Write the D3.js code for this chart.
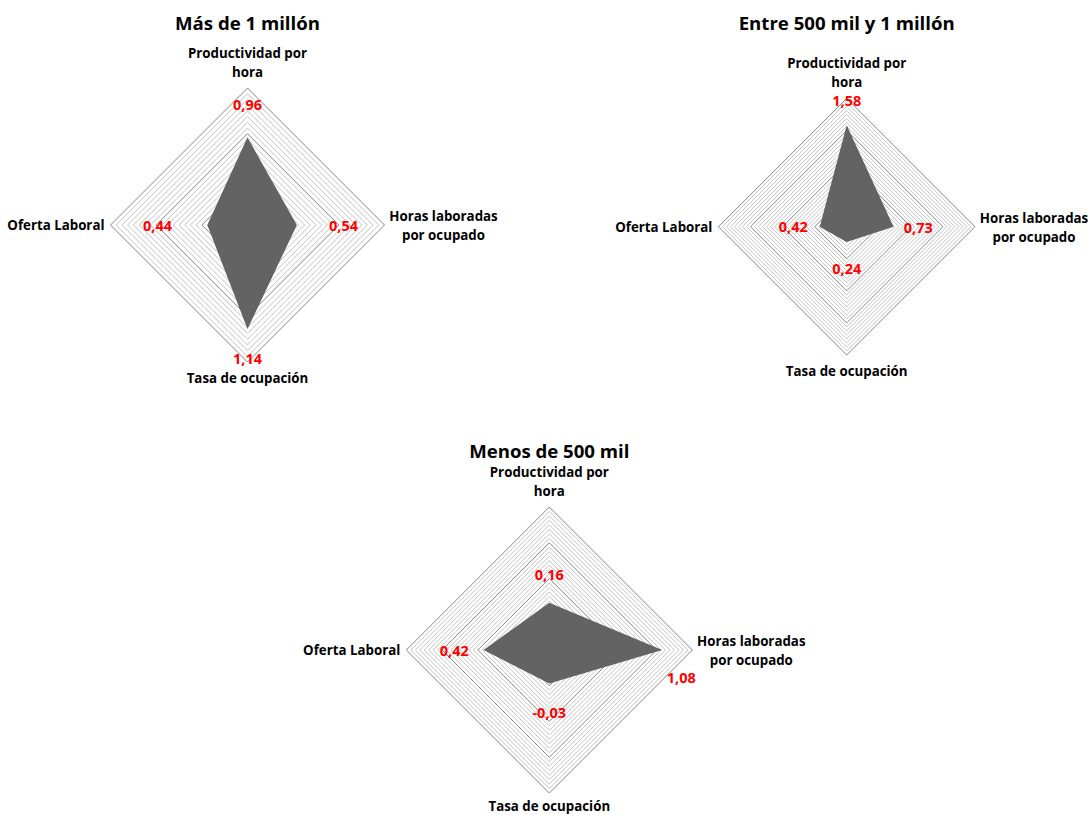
<!DOCTYPE html>
<html>
<head>
<meta charset="utf-8">
<script src="https://cdn.jsdelivr.net/npm/d3@7"></script>
<style>
  body { margin: 0; background: #fff; }
  text { font-family: "Open Sans", Lato, sans-serif; font-weight: bold; }
</style>
</head>
<body>
<div id="chart-container"></div>
<script>
const svgWidth = 1088,
    svgHeight = 815;

// axes clockwise from the top
const categories = [["Productividad por", "hora"], ["Horas laboradas", "por ocupado"], ["Tasa de ocupación"], ["Oferta Laboral"]];
const titles = ["Más de 1 millón", "Entre 500 mil y 1 millón", "Menos de 500 mil"];
const valuesMas1M = [0.96, 0.54, 1.14, 0.44];
const valuesEntre = [1.58, 0.73, 0.24, 0.42];
const valuesMenos = [0.16, 1.08, -0.03, 0.42];
const axisMin = [0, 0, -0.5];
const axisMax = [1.5, 2, 1.5];
const majorUnit = 0.5,
    minorUnit = 0.0625;

// layout of each panel
const panels = [
    { values: valuesMas1M, cx: 247.5, cy: 225, R: 137, titleY: 22,
      labelOff: [[0, -121], [96, 0], [0, 133], [-90, 0]] },
    { values: valuesEntre, cx: 846.7, cy: 226.7, R: 128.3, titleY: 22,
      labelOff: [[0, -126.7], [71.6, 1], [0, 41.6], [-53.4, 0]] },
    { values: valuesMenos, cx: 549.3, cy: 650, R: 143, titleY: 450,
      labelOff: [[0, -75.7], [95, 0], [0, 62.7], [-95, 0]] }
];
// the "1,08" label sits below-right of its vertex
panels[2].labelOff[1] = [132, 27];

const fmt = (v) => d3.format(".2f")(v).replace(".", ",").replace("−", "-");

var svg = d3.select("#chart-container").append("svg")
    .attr("width", svgWidth)
    .attr("height", svgHeight);

panels.forEach((p, k) => {
    let g = svg.append("g")
        .attr("transform", "translate(" + p.cx + "," + p.cy + ")");

    let r = d3.scaleLinear()
        .domain([axisMin[k], axisMax[k]])
        .range([0, p.R]);

    let angle = (i) => i * Math.PI / 2;
    let ring = d3.lineRadial()
        .angle((d, i) => angle(i))
        .radius((d) => r(d))
        .curve(d3.curveLinearClosed);

    // grid rings
    let steps = Math.round((axisMax[k] - axisMin[k]) / minorUnit);
    let levels = d3.range(1, steps + 1).map((i) => axisMin[k] + i * minorUnit);
    g.selectAll("path.grid")
        .data(levels)
        .join("path")
        .attr("class", "grid")
        .attr("d", (v) => ring([v, v, v, v]))
        .attr("fill", "none")
        .attr("stroke", (v) => {
            let q = v / majorUnit;
            return Math.abs(q - Math.round(q)) < 1e-6 ? "#858585" : "#c4c4c4";
        })
        .attr("stroke-width", 1);

    // data area
    g.append("path")
        .attr("d", ring(p.values))
        .attr("fill", "#636363");

    // value labels
    g.selectAll("text.val")
        .data(p.values)
        .join("text")
        .attr("class", "val")
        .attr("x", (d, i) => p.labelOff[i][0])
        .attr("y", (d, i) => p.labelOff[i][1])
        .attr("text-anchor", "middle")
        .attr("dominant-baseline", "central")
        .attr("fill", "#ff0000")
        .attr("font-size", 14.5)
        .text((d) => fmt(d));

    // category labels
    let R = p.R;
    let bottomY = Math.min(R + 16, svgHeight - 9 - p.cy);
    let catPos = [
        { x: 0, y: -R - 16, anchor: "middle", up: true },
        { x: R + 59, y: -9, anchor: "middle" },
        { x: 0, y: bottomY, anchor: "middle" },
        { x: -R - 6, y: 0, anchor: "end" }
    ];
    categories.forEach((lines, i) => {
        let c = catPos[i];
        let t = g.append("text")
            .attr("text-anchor", c.anchor)
            .attr("font-size", 13.3)
            .attr("fill", "#000");
        lines.forEach((s, j) => {
            let y = c.up ? c.y - (lines.length - 1 - j) * 19.5 : c.y + j * 19;
            t.append("tspan")
                .attr("x", c.x)
                .attr("y", y)
                .attr("dominant-baseline", "central")
                .text(s);
        });
    });

    // title
    svg.append("text")
        .attr("x", p.cx)
        .attr("y", p.titleY)
        .attr("text-anchor", "middle")
        .attr("dominant-baseline", "central")
        .attr("font-size", 18.6)
        .attr("fill", "#000")
        .text(titles[k]);
});
</script>
</body>
</html>
